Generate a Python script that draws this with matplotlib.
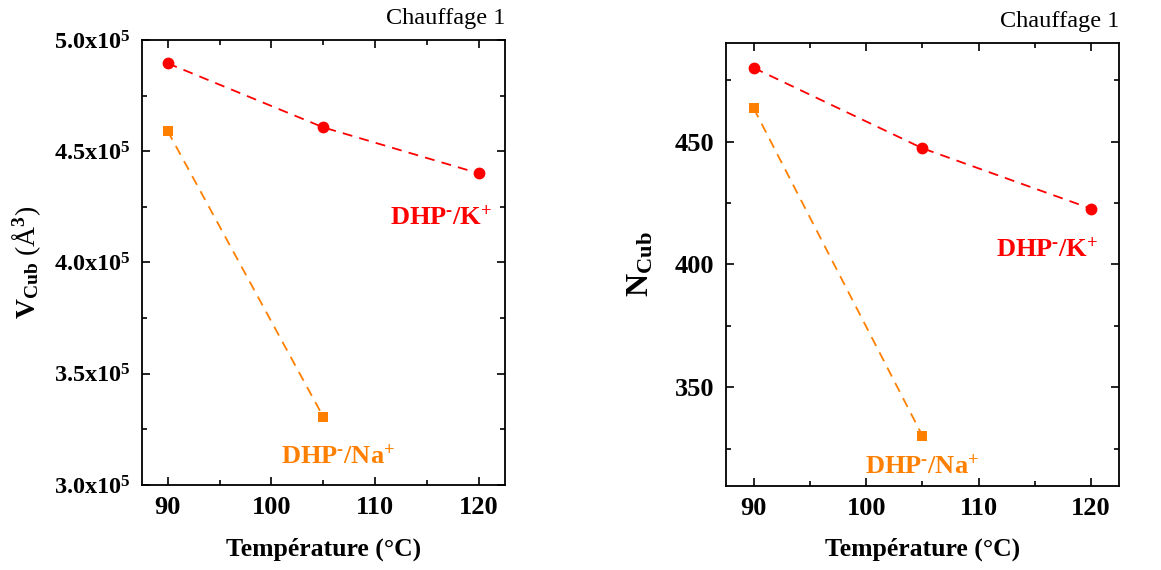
import matplotlib
matplotlib.use("Agg")
import matplotlib.pyplot as plt
from matplotlib.ticker import FixedLocator, FixedFormatter

plt.rcParams['font.family'] = ['Liberation Serif', 'DejaVu Serif']
plt.rcParams['mathtext.fontset'] = 'custom'
plt.rcParams['mathtext.rm'] = 'Liberation Serif:bold'
plt.rcParams['mathtext.it'] = 'Liberation Serif:italic'
plt.rcParams['mathtext.bf'] = 'Liberation Serif:bold'

# ---- data ----
temp_k = [90, 105, 120]
temp_na = [90, 105]
vcub_k = [4.895e5, 4.607e5, 4.40e5]
vcub_na = [4.591e5, 3.306e5]
ncub_k = [480.0, 447.3, 422.7]
ncub_na = [463.5, 330.3]

x_ticks = [90, 100, 110, 120]
x_minor = [95, 105, 115]
v_ticks = [3.0e5, 3.5e5, 4.0e5, 4.5e5, 5.0e5]
v_tick_labels = [r'$\mathbf{3.0x10}^{5}$', r'$\mathbf{3.5x10}^{5}$', r'$\mathbf{4.0x10}^{5}$',
                 r'$\mathbf{4.5x10}^{5}$', r'$\mathbf{5.0x10}^{5}$']
v_minor = [3.25e5, 3.75e5, 4.25e5, 4.75e5]
n_ticks = [350, 400, 450]
n_minor = [325, 375, 425, 475]

label_k = r'$\mathbf{DHP}^{\text{-}}\mathbf{/K}^{+}$'
label_na = r'$\mathbf{DHP}^{\text{-}}\mathbf{/Na}^{+}$'

red = '#FF0000'
orange = '#FF8000'
dash = (0, (5.5, 4))

fig = plt.figure(figsize=(11.61, 5.70), dpi=100)
ax1 = fig.add_axes([0.122, 0.149, 0.313, 0.781])
ax2 = fig.add_axes([0.625, 0.148, 0.339, 0.776])

for ax in (ax1, ax2):
    ax.set_xlim(87.5, 122.5)
    ax.xaxis.set_major_locator(FixedLocator(x_ticks))
    ax.xaxis.set_minor_locator(FixedLocator(x_minor))
    ax.tick_params(which='both', direction='in', top=True, right=True, width=1.2)
    ax.tick_params(which='major', length=6, labelsize=19, pad=8)
    ax.tick_params(which='minor', length=3.5)
    for s in ax.spines.values():
        s.set_linewidth(1.3)
    for lab in ax.get_xticklabels():
        lab.set_fontweight('bold')
    ax.set_xlabel('Température (°C)', fontsize=18.5, fontweight='bold', labelpad=13)
    ax.text(1.0, 1.025, 'Chauffage 1', transform=ax.transAxes, ha='right', va='bottom',
            fontsize=17.5, fontweight='normal')

# left panel
ax1.plot(temp_k, vcub_k, linestyle=dash, color=red, lw=1.3, marker='o',
         markersize=8.5, markeredgewidth=0)
ax1.plot(temp_na, vcub_na, linestyle=dash, color=orange, lw=1.3, marker='s',
         markersize=7.2, markeredgewidth=0)
ax1.set_ylim(3.0e5, 5.0e5)
ax1.yaxis.set_major_locator(FixedLocator(v_ticks))
ax1.yaxis.set_major_formatter(FixedFormatter(v_tick_labels))
ax1.yaxis.set_minor_locator(FixedLocator(v_minor))
ax1.tick_params(axis='y', which='major', labelsize=17.5)
ax1.set_ylabel(r'$\mathbf{V_{Cub}}$ (Å$^{3}$)', fontsize=20, labelpad=8)
ax1.text(111.4, 4.169e5, label_k, color=red, fontsize=19, ha='left', va='baseline')
ax1.text(100.9, 3.099e5, label_na, color=orange, fontsize=19, ha='left', va='baseline')

# right panel
ax2.plot(temp_k, ncub_k, linestyle=dash, color=red, lw=1.3, marker='o',
         markersize=8.5, markeredgewidth=0)
ax2.plot(temp_na, ncub_na, linestyle=dash, color=orange, lw=1.3, marker='s',
         markersize=7.2, markeredgewidth=0)
ax2.set_ylim(310, 490)
ax2.yaxis.set_major_locator(FixedLocator(n_ticks))
ax2.yaxis.set_minor_locator(FixedLocator(n_minor))
for lab in ax2.get_yticklabels():
    lab.set_fontweight('bold')
ax2.set_ylabel(r'$\mathbf{N_{Cub}}$', fontsize=23, labelpad=14)
ax2.text(111.5, 403.1, label_k, color=red, fontsize=19, ha='left', va='baseline')
ax2.text(99.9, 315.1, label_na, color=orange, fontsize=19, ha='left', va='baseline')

fig.savefig('out.png', dpi=100)
